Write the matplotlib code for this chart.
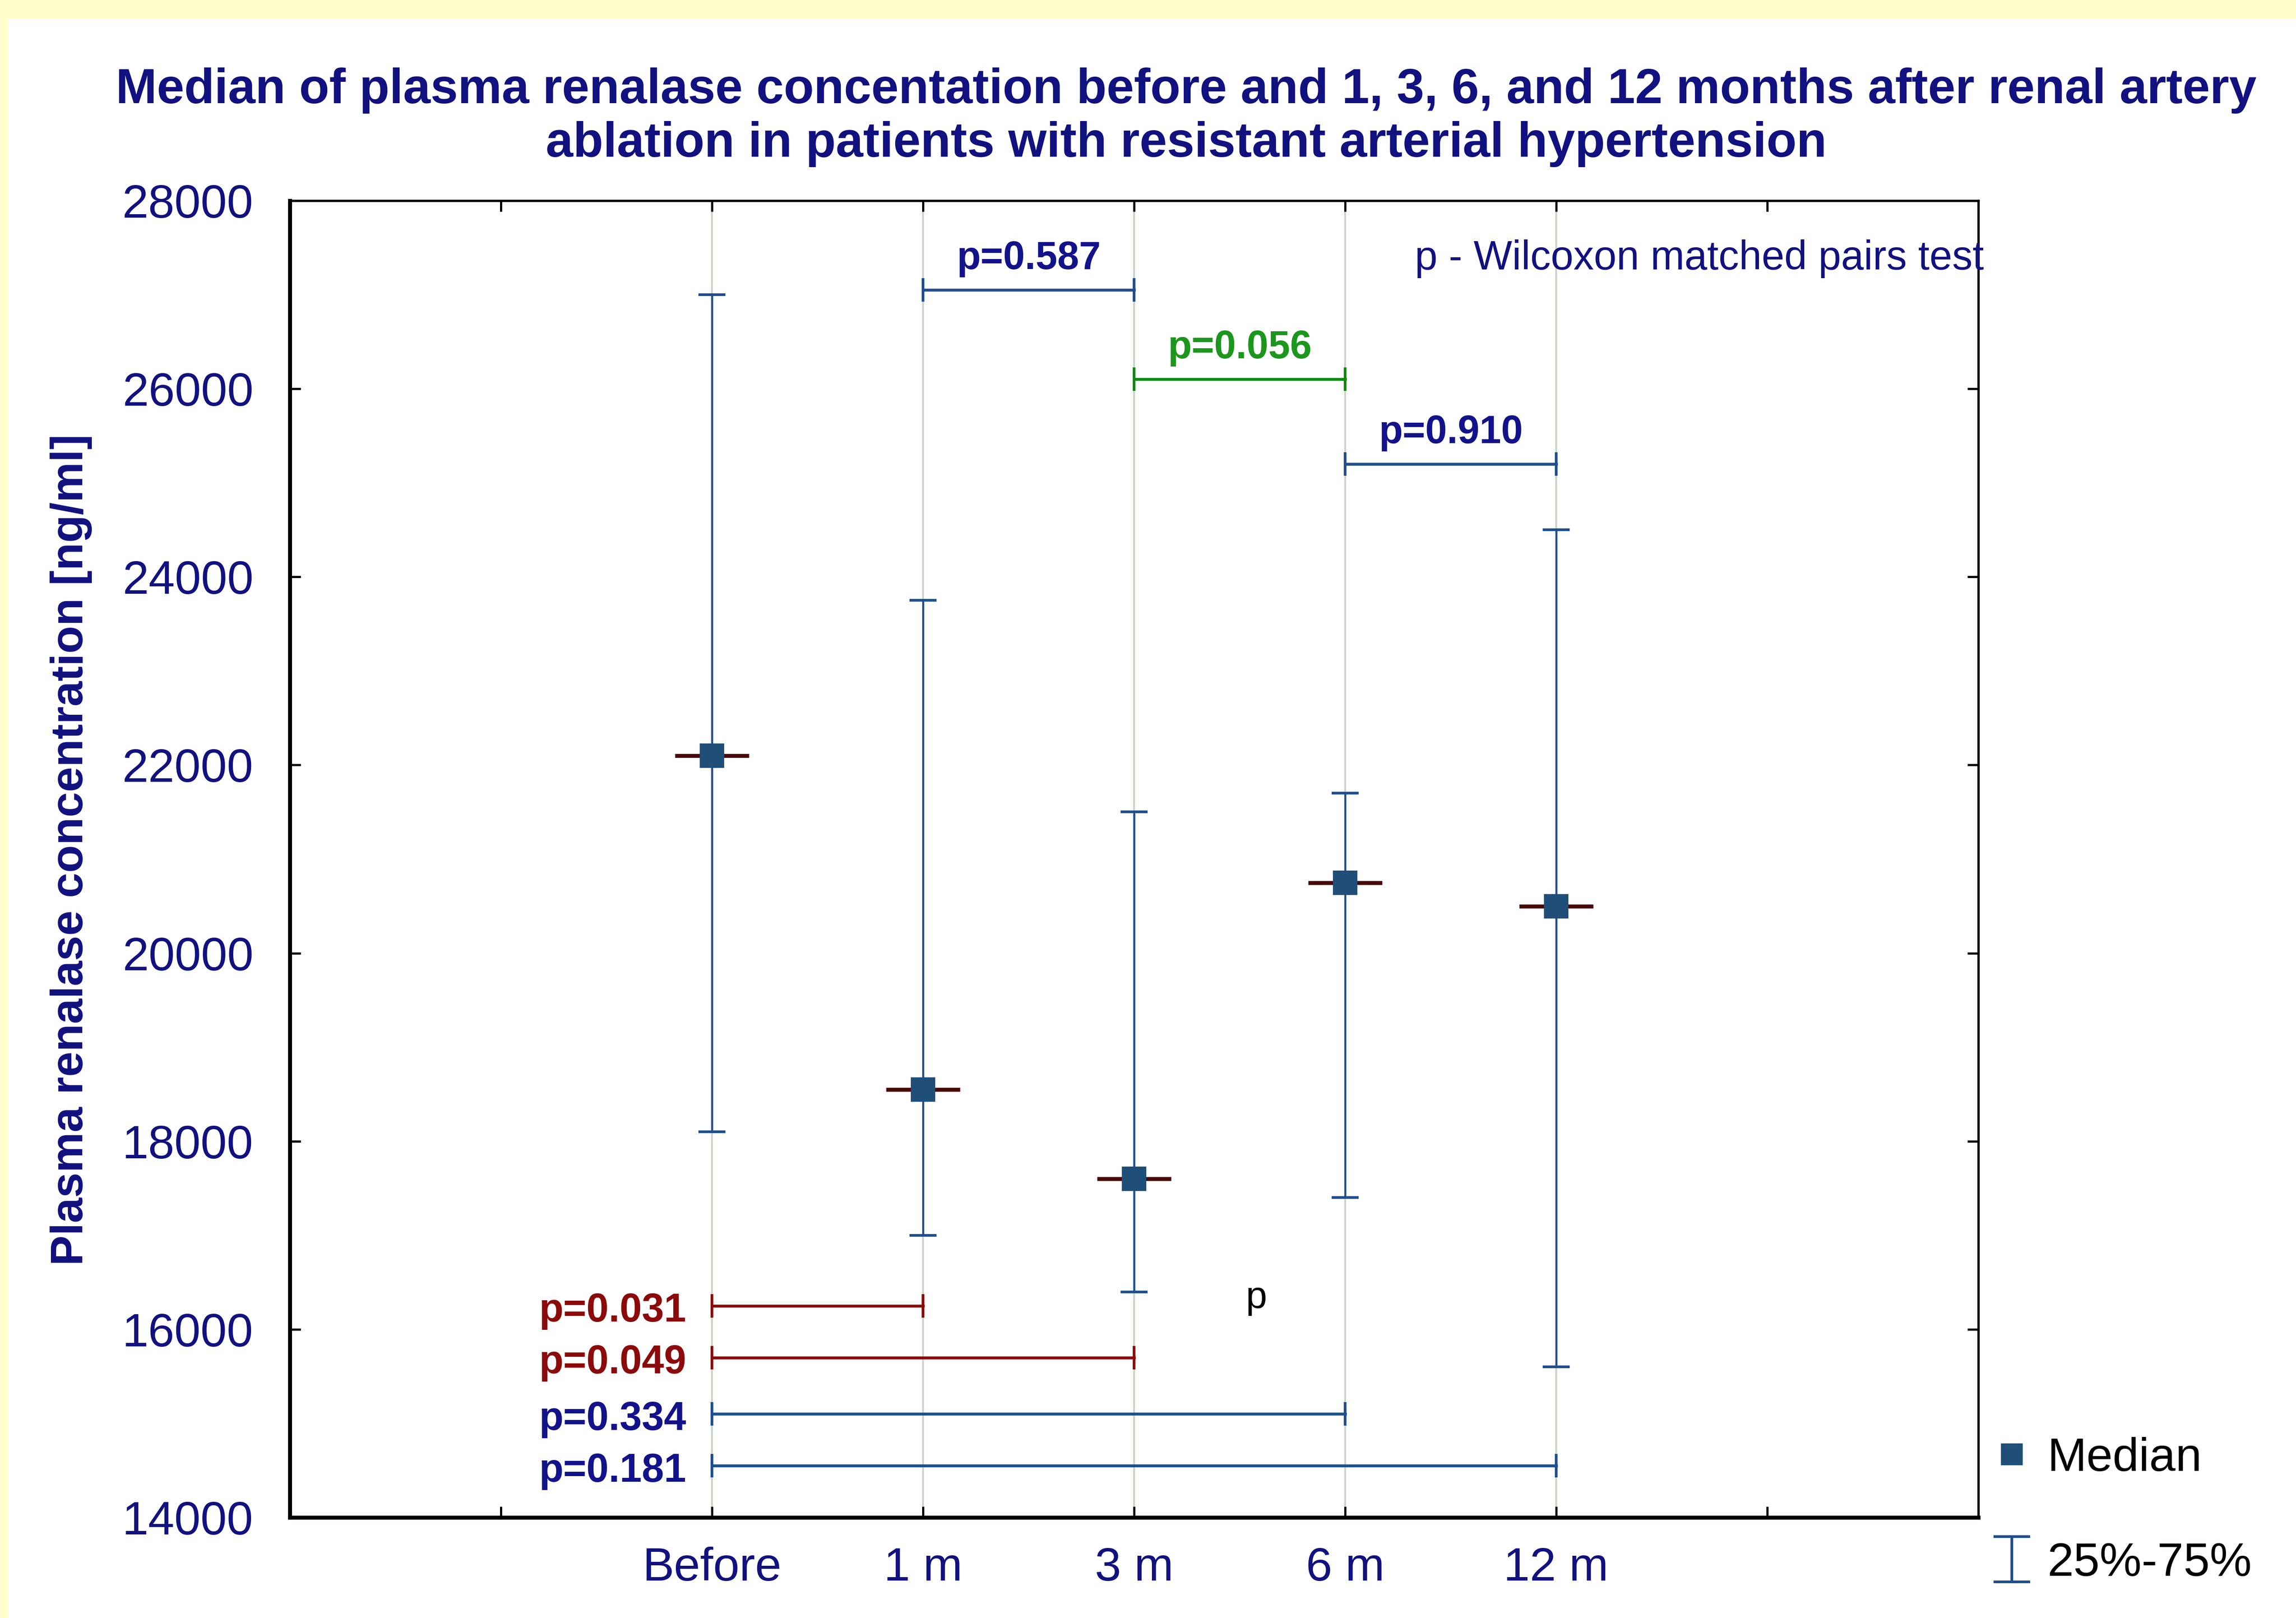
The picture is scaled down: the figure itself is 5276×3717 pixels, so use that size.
import matplotlib
matplotlib.use("Agg")
import matplotlib.pyplot as plt
from matplotlib.lines import Line2D
from matplotlib.path import Path
from matplotlib.patches import Rectangle

# ---------------- data ----------------
categories = ["Before", "1 m", "3 m", "6 m", "12 m"]
median = [22100, 18550, 17600, 20750, 20500]
q25 = [18100, 17000, 16400, 17400, 15600]
q75 = [27000, 23750, 21500, 21700, 24500]

# pairwise comparisons (category index pairs) and p-values
pair_a = [1, 2, 3, 0, 0, 0, 0]
pair_b = [2, 3, 4, 1, 2, 3, 4]
p_labels = ["p=0.587", "p=0.056", "p=0.910", "p=0.031", "p=0.049", "p=0.334", "p=0.181"]
bracket_y = [27050, 26100, 25200, 16250, 15700, 15100, 14550]
bracket_kind = ["blue", "green", "blue", "red", "red", "blue", "blue"]

yticks = [14000, 16000, 18000, 20000, 22000, 24000, 26000, 28000]

# ---------------- style ----------------
NAVY = "#11117f"
WHISK = "#1f4f8c"
SQUARE = "#1f4e79"
MAROON = "#4a0808"
GRID = "#c9d3c9"
kind_line = {"blue": "#1f4f8c", "green": "#118811", "red": "#8b0a0a"}
kind_text = {"blue": "#12128a", "green": "#1c961c", "red": "#8b0a0a"}

plt.rcParams["font.family"] = ["Liberation Sans", "DejaVu Sans"]

fig = plt.figure(figsize=(5276 / 300, 3717 / 300), dpi=300, facecolor="#ffffcc")
# white panel inset inside yellow frame
fig.add_artist(Rectangle((19 / 5276, 0), 1, 1 - 43 / 3717, transform=fig.transFigure,
                         facecolor="white", edgecolor="none", zorder=0))

ax = fig.add_axes([0.1262, 0.0621, 0.8616 - 0.1262, 0.876 - 0.0621])
ax.set_facecolor("white")
x = list(range(len(categories)))

for xi in x:
    ax.axvline(xi, color=GRID, lw=1.0, zorder=0)

# median horizontal dash
for xi, m in zip(x, median):
    ax.hlines(m, xi - 0.175, xi + 0.175, color=MAROON, lw=2.2, zorder=2)

# whiskers 25-75
lower = [m - a for m, a in zip(median, q25)]
upper = [b - m for m, b in zip(median, q75)]
ax.errorbar(x, median, yerr=[lower, upper], fmt="none", ecolor=WHISK,
            elinewidth=1.1, capsize=7.5, capthick=1.5, zorder=3)
ax.plot(x, median, ls="none", marker="s", markersize=12.5, color=SQUARE,
        markeredgecolor=SQUARE, zorder=4)

# comparison brackets
for a, b, lab, yb, k in zip(pair_a, pair_b, p_labels, bracket_y, bracket_kind):
    ax.plot([a, b], [yb, yb], color=kind_line[k], lw=1.6, marker="|",
            markersize=13, markeredgewidth=1.5, zorder=3)
    if a == 0:
        ax.annotate(lab, xy=(a, yb), xytext=(-14, -3), textcoords="offset points",
                    ha="right", va="center", fontsize=22, fontweight="bold",
                    color=kind_text[k])
    else:
        ax.annotate(lab, xy=((a + b) / 2, yb), xytext=(0, 7), textcoords="offset points",
                    ha="center", va="bottom", fontsize=21.5, fontweight="bold",
                    color=kind_text[k])

ax.text(3.33, 27380, "p - Wilcoxon matched pairs test", fontsize=22.5, color=NAVY,
        ha="left", va="center")
ax.text(2.58, 16330, "p", fontsize=21, color="black", ha="center", va="center")

ax.set_xlim(-2, 6)
ax.set_ylim(14000, 28000)
ax.set_xticks(range(-1, 6))
ax.set_xticklabels([""] + categories + [""])
ax.set_yticks(yticks)
ax.set_yticklabels([str(v) for v in yticks])
ax.tick_params(axis="both", direction="in", length=6, width=1.2, colors="black",
               labelcolor=NAVY, labelsize=26, top=True, right=True)
ax.tick_params(axis="y", pad=20)
ax.tick_params(axis="x", pad=16)
for s in ["left", "bottom"]:
    ax.spines[s].set_linewidth(2.2)
for s in ["top", "right"]:
    ax.spines[s].set_linewidth(1.3)

ax.set_ylabel("Plasma renalase concentration [ng/ml]", fontsize=25, fontweight="bold",
              color=NAVY)
ax.yaxis.set_label_coords(-0.117, 0.507)

fig.text(0.5166, 0.9275,
         "Median of plasma renalase concentation before and 1, 3, 6, and 12 months after renal artery\n"
         "ablation in patients with resistant arterial hypertension",
         ha="center", va="center", fontsize=27.2, fontweight="bold", color=NAVY,
         linespacing=1.2)

# legend
ibeam = Path([(-0.4, 0.5), (0.4, 0.5), (0, 0.5), (0, -0.5), (-0.4, -0.5), (0.4, -0.5)],
             [Path.MOVETO, Path.LINETO, Path.MOVETO, Path.LINETO, Path.MOVETO, Path.LINETO])
h_med = Line2D([], [], ls="none", marker="s", markersize=11, color=SQUARE)
h_iqr = Line2D([], [], ls="none", marker=ibeam, markersize=25, markerfacecolor="none",
               markeredgecolor=WHISK, markeredgewidth=1.5)
fig.legend([h_med, h_iqr], ["Median", "25%-75%"], loc="center left",
           bbox_to_anchor=(0.868, 0.066), frameon=False, fontsize=26,
           handlelength=0.8, handletextpad=0.35, labelspacing=1.3, borderpad=0,
           borderaxespad=0)

fig.savefig("out.png", dpi=300, facecolor=fig.get_facecolor())
